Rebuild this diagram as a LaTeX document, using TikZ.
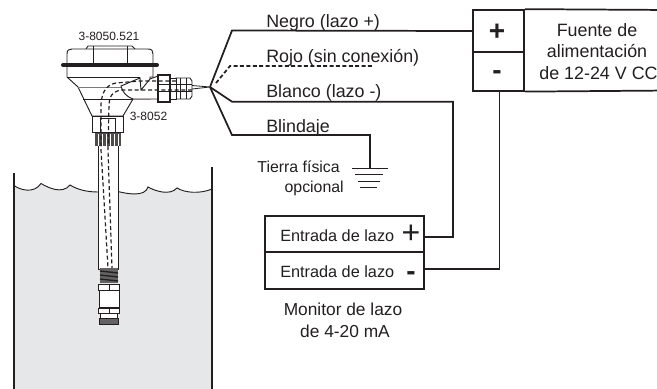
\documentclass[tikz,border=0pt]{standalone}
\usepackage{fontspec}
\setmainfont{Liberation Sans}
\usepackage{tikz}
\usetikzlibrary{positioning, calc}
\definecolor{ink}{HTML}{231F20}
\definecolor{tankgray}{HTML}{E6E7E8}
\tikzset{
  wire/.style={draw=ink, line width=1.3pt, line join=miter},
  body/.style={draw=ink, line width=0.7pt, fill=white},
  dashwire/.style={draw=ink, line width=0.9pt, dash pattern=on 3pt off 2pt},
  termbox/.style={draw=ink, line width=1.3pt, fill=white, inner sep=0pt},
  wirelabel/.style={anchor=base west, inner sep=0pt, text=ink, font=\fontsize{13.4}{15}\selectfont},
  smalllabel/.style={inner sep=0pt, text=ink, font=\fontsize{12.2}{14}\selectfont},
  partlabel/.style={inner sep=0pt, text=ink, font=\fontsize{9}{11}\selectfont},
  signlabel/.style={inner sep=0pt, text=ink, font=\bfseries\fontsize{21}{21}\selectfont},
}
\begin{document}
\begin{tikzpicture}[x=0.75pt, y=-0.75pt]

        \clip (0, 0) rectangle (657, 389);

        % tank
        \fill[tankgray] (14, 185.5) .. controls (20, 190) and (34, 194) .. (41, 183.5)
          .. controls (47, 187) and (62, 195) .. (70, 185)
          .. controls (78, 190) and (88, 192) .. (98, 192) -- (118, 191.5)
          .. controls (128, 194) and (145, 197) .. (148, 187)
          .. controls (155, 191) and (170, 196) .. (177, 188)
          .. controls (185, 193) and (200, 194) .. (212, 189) -- (212, 389) -- (14, 389) -- cycle;
        \draw[ink, line width=0.7pt] (14, 185.5) .. controls (20, 190) and (34, 194) .. (41, 183.5)
          .. controls (47, 187) and (62, 195) .. (70, 185)
          .. controls (78, 190) and (88, 192) .. (98, 192);
        \draw[ink, line width=0.7pt] (118, 191.5)
          .. controls (128, 194) and (145, 197) .. (148, 187)
          .. controls (155, 191) and (170, 196) .. (177, 188)
          .. controls (185, 193) and (200, 194) .. (212, 189);
        \draw[ink, line width=1.5pt] (14, 173) -- (14, 389);
        \draw[ink, line width=1.5pt] (212, 167) -- (212, 389);

        % sensor head
        \draw[body] (86, 49) -- (88, 46) -- (132, 46) -- (135, 49);
        \draw[body] (67, 65) -- (67, 54) .. controls (67, 50) and (69, 49) .. (72, 49) -- (148, 49)
          .. controls (152, 49) and (153, 51) .. (153, 54) -- (153, 65);
        \draw[ink, line width=0.6pt] (93, 46) -- (93, 65) (127, 46) -- (127, 65);
        \draw[body] (67, 66) -- (67, 77) -- (78, 87) -- (92, 116) -- (123, 116) -- (133, 99)
          -- (150, 99) -- (150, 77) -- (153, 77) -- (153, 66) -- cycle;
        \draw[ink, line width=0.6pt] (67, 77) -- (140, 77);
        \draw[ink!60, line width=0.5pt] (78, 87) -- (122, 87);
        \draw[ink, line width=0.6pt] (83, 99) -- (133, 99);
        \draw[ink, line width=3pt, line cap=round] (63, 65) -- (157, 65);

        % elbow and cable gland
        \draw[body] (157, 99) -- (133, 99) .. controls (127, 97) and (122, 92) .. (121, 86)
          -- (140, 78) -- (141, 90) -- (150, 79) -- (158, 76) -- (158, 99);
        \draw[body] (176, 78) -- (190, 78) -- (192, 81) -- (192, 96) -- (190, 99) -- (176, 99) -- cycle;
        \draw[body] (170, 78) rectangle (176, 99);
        \draw[body, line width=1pt] (158, 75) rectangle (170, 102);
        \draw[ink, line width=0.5pt] (158, 84) -- (192, 84) (158, 91) -- (192, 91)
          (180, 78) -- (180, 99) (186, 78) -- (186, 99);

        % collar and knurl
        \draw[body] (92, 116) rectangle (123, 132);
        \draw[ink, line width=0.6pt] (100, 132) -- (100, 118) -- (115, 118) -- (115, 132);
        \fill[ink!80] (95, 133) rectangle (121, 146);
        \foreach \x in {98, 102, ..., 118} {
          \draw[white, line width=0.5pt] (\x, 134) -- (\x, 146);
        }

        % stem
        \draw[body] (98, 146) -- (98, 269) -- (118, 269) -- (118, 146);
        \fill[ink!70] (100, 268) rectangle (118, 283);
        \foreach \y in {271, 275, 279} {
          \draw[ink, line width=1pt] (100, \y) -- (118, \y + 2);
        }
        \draw[body] (98, 284) rectangle (119, 290);
        \draw[body] (99, 290) rectangle (119, 307);
        \draw[body] (98, 308) rectangle (119, 313);
        \draw[ink, line width=0.6pt] (109, 284) -- (109, 290) (109, 308) -- (109, 313);
        \draw[body] (100, 313) rectangle (117, 318);
        \draw[ink, fill=ink!70, line width=0.6pt] (99, 318) rectangle (118, 324);

        % conductors inside the sensor
        \draw[dashwire] (176, 81) -- (140, 81) -- (116, 83) .. controls (106, 85) and (102, 92) .. (101, 104)
          -- (101, 150) -- (103, 183) -- (108, 268);
        \draw[dashwire] (192, 90) -- (122, 90) .. controls (114, 91) and (110, 94) .. (109, 104)
          -- (108, 150) -- (109, 180) -- (112, 268);

        % power supply
        \node[termbox, minimum width=51*0.75pt, minimum height=42*0.75pt] (psuplus) at (498.5, 31) {};
        \node[termbox, minimum width=51*0.75pt, minimum height=38.5*0.75pt] (psuminus) at (498.5, 71.5) {};
        \draw[ink, line width=1.3pt] (psuplus.north east) -- (670, 10);
        \draw[ink, line width=1.3pt] (psuminus.south east) -- (670, 90.5);
        \draw[ink, line width=0.7pt] (psuplus.south west) -- (psuplus.south east);
        \node[signlabel] (psuplussign) at (497, 32) {+};
        \node[signlabel] (psuminussign) at (497, 75) {-};
        \node[wirelabel, anchor=center, align=center] (psulabel) at (597, 30) {Fuente de};
        \node[wirelabel, anchor=center] (psulabeltwo) at (597, 51) {alimentación};
        \node[wirelabel, anchor=center] (psulabelthree) at (598.5, 73) {de 12-24 V CC};

        % loop monitor
        \node[termbox, minimum width=159*0.75pt, minimum height=36*0.75pt] (loopplus) at (344.5, 234) {};
        \node[termbox, minimum width=159*0.75pt, minimum height=37*0.75pt] (loopminus) at (344.5, 270.5) {};
        \node[smalllabel, anchor=base west] (plustext) at (280, 241) {Entrada de lazo};
        \node[smalllabel, anchor=base west] (minustext) at (280, 277) {Entrada de lazo};
        \node[signlabel, font=\fontsize{24}{24}\selectfont] (loopplussign) at (411, 234) {+};
        \node[signlabel] (loopminussign) at (411, 276) {-};
        \node[wirelabel, anchor=center, font=\fontsize{13}{15}\selectfont] (monitorlabel) at (343, 309) {Monitor de lazo};
        \node[wirelabel, anchor=center, font=\fontsize{13}{15}\selectfont] (monitorlabeltwo) at (345, 331) {de 4-20 mA};

        % wires
        \coordinate (junction) at (210, 87);
        \coordinate (blackbend) at (232, 30.5);
        \coordinate (redbend) at (230, 66);
        \coordinate (redend) at (374, 66);
        \coordinate (whitebend) at (232, 101.7);
        \coordinate (shieldbend) at (232, 135);
        \coordinate (shieldcorner) at (370, 135);
        \coordinate (groundtop) at (370, 168);
        \coordinate (whitecorner) at (453, 101.7);
        \coordinate (plusdrop) at (453, 237);
        \coordinate (minusdrop) at (499.5, 269);
        \coordinate (minustop) at (499.5, 90.5);
        \coordinate (loopplusin) at (424, 237);
        \coordinate (loopminusin) at (424, 269);

        \draw[ink, line width=0.6pt] (192, 85.5) -- (junction) (192, 89) -- (junction);
        \draw[wire] (junction) -- (blackbend) -- (psuplus.west);
        \draw[wire, dash pattern=on 3pt off 1.8pt] (junction) ++(6, -4) -- (redbend) -- (redend);
        \draw[wire] (junction) -- (whitebend) -- (whitecorner) -- (plusdrop) -- (loopplusin);
        \draw[wire] (junction) -- (shieldbend) -- (shieldcorner) -- (groundtop);
        \draw[wire] (minustop) -- (minusdrop) -- (loopminusin);

        % ground
        \draw[ink, line width=0.7pt] (352, 168) -- (388, 168) (355, 174) -- (383, 174)
          (358, 181) -- (380, 181) (360, 187) -- (377, 187);

        % labels
        \node[wirelabel] (blacklabel) at (266, 27) {Negro (lazo +)};
        \node[wirelabel] (redlabel) at (266, 62) {Rojo (sin conexión)};
        \node[wirelabel] (whitelabel) at (266, 97) {Blanco (lazo -)};
        \node[wirelabel] (shieldlabel) at (266, 132.5) {Blindaje};
        \node[smalllabel, anchor=base east, font=\fontsize{11.9}{14}\selectfont] (groundlabel) at (340, 172.5) {Tierra física};
        \node[smalllabel, anchor=base east, font=\fontsize{11.9}{14}\selectfont] (groundlabeltwo) at (344, 192) {opcional};
        \node[partlabel] (headlabel) at (109, 36) {3-8050.521};
        \node[partlabel] (stemlabel) at (148.5, 116) {3-8052};
      \end{tikzpicture}
\end{document}
